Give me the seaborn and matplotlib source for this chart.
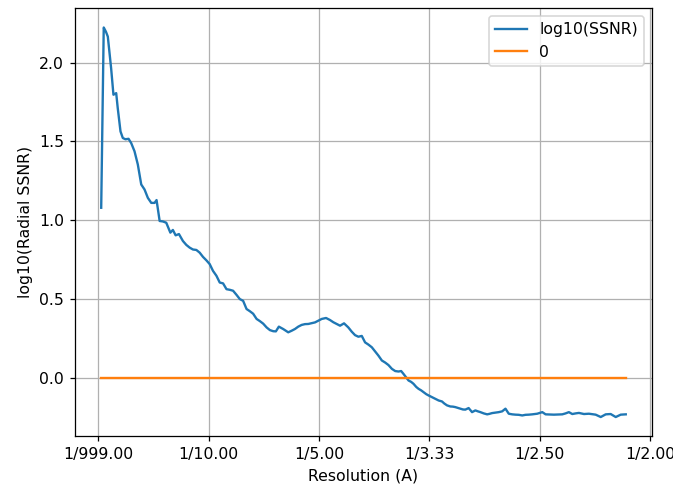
import numpy as np
import pandas as pd
import matplotlib
matplotlib.use("Agg")
import matplotlib.pyplot as plt
import seaborn as sns

# spatial frequency (1/A) and log10 of radial SSNR
freq = [
    0.0025, 0.0048, 0.0068, 0.0085, 0.0115, 0.0136, 0.0161, 0.0175, 0.0200, 0.0221,
    0.0245, 0.0273, 0.0297, 0.0327, 0.0357, 0.0388, 0.0418, 0.0448, 0.0479, 0.0509,
    0.0527, 0.0555, 0.0585, 0.0615, 0.0652, 0.0675, 0.0700, 0.0730, 0.0766, 0.0797,
    0.0827, 0.0857, 0.0888, 0.0918, 0.0948, 0.0979, 0.1009, 0.1039, 0.1070, 0.1100,
    0.1130, 0.1161, 0.1191, 0.1221, 0.1252, 0.1282, 0.1312, 0.1343, 0.1373, 0.1403,
    0.1434, 0.1464, 0.1494, 0.1525, 0.1555, 0.1585, 0.1609, 0.1636, 0.1675, 0.1721,
    0.1752, 0.1782, 0.1812, 0.1843, 0.1873, 0.1903, 0.1934, 0.1964, 0.1994, 0.2025,
    0.2064, 0.2100, 0.2130, 0.2161, 0.2191, 0.2227, 0.2266, 0.2297, 0.2327, 0.2357,
    0.2388, 0.2418, 0.2448, 0.2479, 0.2509, 0.2539, 0.2570, 0.2600, 0.2630, 0.2661,
    0.2691, 0.2721, 0.2745, 0.2766, 0.2791, 0.2812, 0.2836, 0.2857, 0.2882, 0.2903,
    0.2927, 0.2948, 0.2973, 0.2994, 0.3025, 0.3055, 0.3085, 0.3115, 0.3136, 0.3161,
    0.3191, 0.3214, 0.3236, 0.3259, 0.3282, 0.3305, 0.3327, 0.3357, 0.3388, 0.3418,
    0.3441, 0.3464, 0.3494, 0.3525, 0.3545, 0.3570, 0.3600, 0.3630, 0.3661, 0.3691,
    0.3721, 0.3752, 0.3782, 0.3812, 0.3843, 0.3873, 0.3903, 0.3934, 0.3979, 0.4025,
    0.4055, 0.4091, 0.4130, 0.4168, 0.4206, 0.4236, 0.4266, 0.4297, 0.4327, 0.4357,
    0.4403, 0.4448, 0.4479, 0.4509, 0.4555, 0.4600, 0.4645, 0.4691, 0.4736, 0.4782,
]
log_ssnr = [
    1.078, 2.223, 2.196, 2.165, 1.964, 1.796, 1.806, 1.711, 1.563, 1.521,
    1.513, 1.516, 1.489, 1.437, 1.353, 1.226, 1.194, 1.141, 1.109, 1.109,
    1.127, 0.994, 0.991, 0.983, 0.920, 0.937, 0.903, 0.911, 0.867, 0.842,
    0.825, 0.813, 0.810, 0.793, 0.766, 0.744, 0.720, 0.677, 0.646, 0.603,
    0.598, 0.561, 0.557, 0.551, 0.525, 0.498, 0.487, 0.435, 0.421, 0.405,
    0.372, 0.358, 0.342, 0.318, 0.301, 0.294, 0.293, 0.323, 0.308, 0.287,
    0.297, 0.308, 0.323, 0.334, 0.339, 0.340, 0.345, 0.350, 0.361, 0.372,
    0.378, 0.365, 0.351, 0.340, 0.329, 0.344, 0.318, 0.291, 0.269, 0.259,
    0.264, 0.223, 0.209, 0.192, 0.165, 0.139, 0.108, 0.095, 0.079, 0.055,
    0.041, 0.038, 0.041, 0.023, 0.000, -0.019, -0.028, -0.040, -0.060, -0.072,
    -0.082, -0.093, -0.106, -0.114, -0.125, -0.136, -0.146, -0.152, -0.165, -0.177,
    -0.184, -0.185, -0.188, -0.193, -0.198, -0.203, -0.204, -0.194, -0.220, -0.209,
    -0.215, -0.220, -0.228, -0.234, -0.231, -0.226, -0.223, -0.220, -0.215, -0.198,
    -0.230, -0.234, -0.236, -0.237, -0.241, -0.237, -0.236, -0.234, -0.230, -0.220,
    -0.234, -0.235, -0.236, -0.235, -0.234, -0.228, -0.220, -0.232, -0.228, -0.225,
    -0.232, -0.230, -0.233, -0.236, -0.251, -0.234, -0.232, -0.251, -0.236, -0.234,
]

tick_pos = [0.0, 0.1, 0.2, 0.3, 0.4, 0.5]
tick_labels = ["1/999.00", "1/10.00", "1/5.00", "1/3.33", "1/2.50", "1/2.00"]

df = pd.DataFrame({"freq": freq, "log_ssnr": log_ssnr})
df["zero"] = 0.0

DPI = 113
fig, ax = plt.subplots(figsize=(673 / DPI, 491 / DPI), dpi=DPI)
sns.lineplot(data=df, x="freq", y="log_ssnr", color="tab:blue", label="log10(SSNR)", sort=False, ax=ax)
sns.lineplot(data=df, x="freq", y="zero", color="tab:orange", label="0", sort=False, ax=ax)

ax.set_xticks(tick_pos)
ax.set_xticklabels(tick_labels)
ax.set_xlabel("Resolution (A)")
ax.set_ylabel("log10(Radial SSNR)")
ax.grid(True)
ax.legend(loc="upper right")

plt.subplots_adjust(left=0.1114, right=0.9688, top=0.9837, bottom=0.111)
plt.savefig("out.png", dpi=DPI)
